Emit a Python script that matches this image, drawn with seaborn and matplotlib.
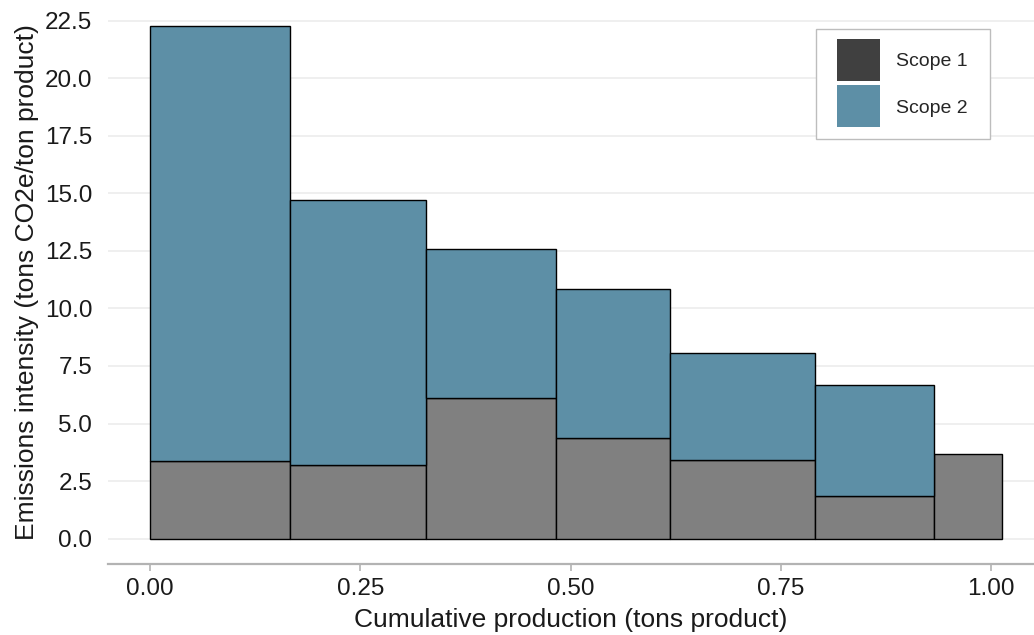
import numpy as np
import matplotlib
matplotlib.use("Agg")
import matplotlib.pyplot as plt
from matplotlib.patches import Patch, Rectangle
from matplotlib.legend_handler import HandlerPatch
import seaborn as sns

# Production volume of each producer group (tons product), in cost-curve order
production = [0.1659, 0.1622, 0.1545, 0.1359, 0.1723, 0.1415, 0.0804]
# Emissions intensity by scope (tons CO2e / ton product)
scope1 = [3.38, 3.21, 6.10, 4.38, 3.42, 1.86, 3.68]
scope2 = [18.90, 11.49, 6.47, 6.48, 4.64, 4.83, 0.00]

series_names = ["Scope 1", "Scope 2"]
x_ticks = [0.00, 0.25, 0.50, 0.75, 1.00]
x_label = "Cumulative production (tons product)"
y_label = "Emissions intensity (tons CO2e/ton product)"

sns.set_theme(style="whitegrid")
plt.rcParams["font.family"] = ["Liberation Sans", "DejaVu Sans"]

fill_s1 = "#808080"
fill_s2 = "#5d8fa6"
legend_s1 = "#404040"
text_col = "#1a1a1a"

fig = plt.figure(figsize=(10.34, 6.35), dpi=100)
ax = fig.add_axes([0.104, 0.1113, 0.896, 0.8887])

prod = np.array(production)
left = np.concatenate([[0.0], np.cumsum(prod)[:-1]])
s1 = np.array(scope1)
s2 = np.array(scope2)

ax.bar(left, s1, width=prod, align="edge", color=fill_s1,
       edgecolor="black", linewidth=1.0, zorder=3)
mask = s2 > 0
ax.bar(left[mask], s2[mask], width=prod[mask], bottom=s1[mask], align="edge",
       color=fill_s2, edgecolor="black", linewidth=1.0, zorder=3)

total_max = float((s1 + s2).max())
pad_y = 0.05 * total_max
ax.set_ylim(-pad_y, total_max + pad_y)
pad_x = 0.05 * float(prod.sum())
ax.set_xlim(-pad_x, 1.0511)

y_ticks = np.arange(0, 22.6, 2.5)
ax.set_yticks(y_ticks)
ax.set_yticklabels([f"{v:.1f}" for v in y_ticks])
ax.set_xticks(x_ticks)
ax.set_xticklabels([f"{v:.2f}" for v in x_ticks])

ax.grid(axis="y", color="#ebebeb", linewidth=1.1, zorder=0)
ax.grid(axis="x", visible=False)
ax.set_facecolor("white")
for side in ["top", "right", "left"]:
    ax.spines[side].set_visible(False)
ax.spines["bottom"].set_visible(True)
ax.spines["bottom"].set_color("#b3b3b3")
ax.spines["bottom"].set_linewidth(1.6)

ax.tick_params(axis="x", which="major", bottom=True, length=5, width=1.2,
               color="#b3b3b3", pad=5, labelsize=17.5, labelcolor=text_col)
ax.tick_params(axis="y", which="major", left=False, length=0, pad=11,
               labelsize=17.5, labelcolor=text_col)

ax.set_xlabel(x_label, fontsize=19, color=text_col, labelpad=5.5)
ax.set_ylabel(y_label, fontsize=19, color=text_col, labelpad=4)

# Legend keys: tall square swatches centred on each (compact) legend row
KEY_H = 30.2  # points


def square_key(legend, orig_handle, xdescent, ydescent, width, height, fontsize):
    yc = height / 2.0 - ydescent
    return Rectangle((-xdescent, yc - KEY_H / 2.0), width, KEY_H)


handles = [Patch(facecolor=legend_s1, edgecolor="none"),
           Patch(facecolor=fill_s2, edgecolor="none")]
leg = ax.legend(handles, series_names, loc="upper right",
                bbox_to_anchor=(0.9525, 0.9486), fontsize=14,
                frameon=True, fancybox=False, framealpha=1,
                edgecolor="#bdbdbd", handlelength=2.21, handleheight=1.0,
                handletextpad=0.82, labelspacing=1.4, borderpad=1.13,
                borderaxespad=0,
                handler_map={Patch: HandlerPatch(patch_func=square_key)})
leg.get_frame().set_linewidth(1.0)

fig.savefig("out.png", dpi=100)
